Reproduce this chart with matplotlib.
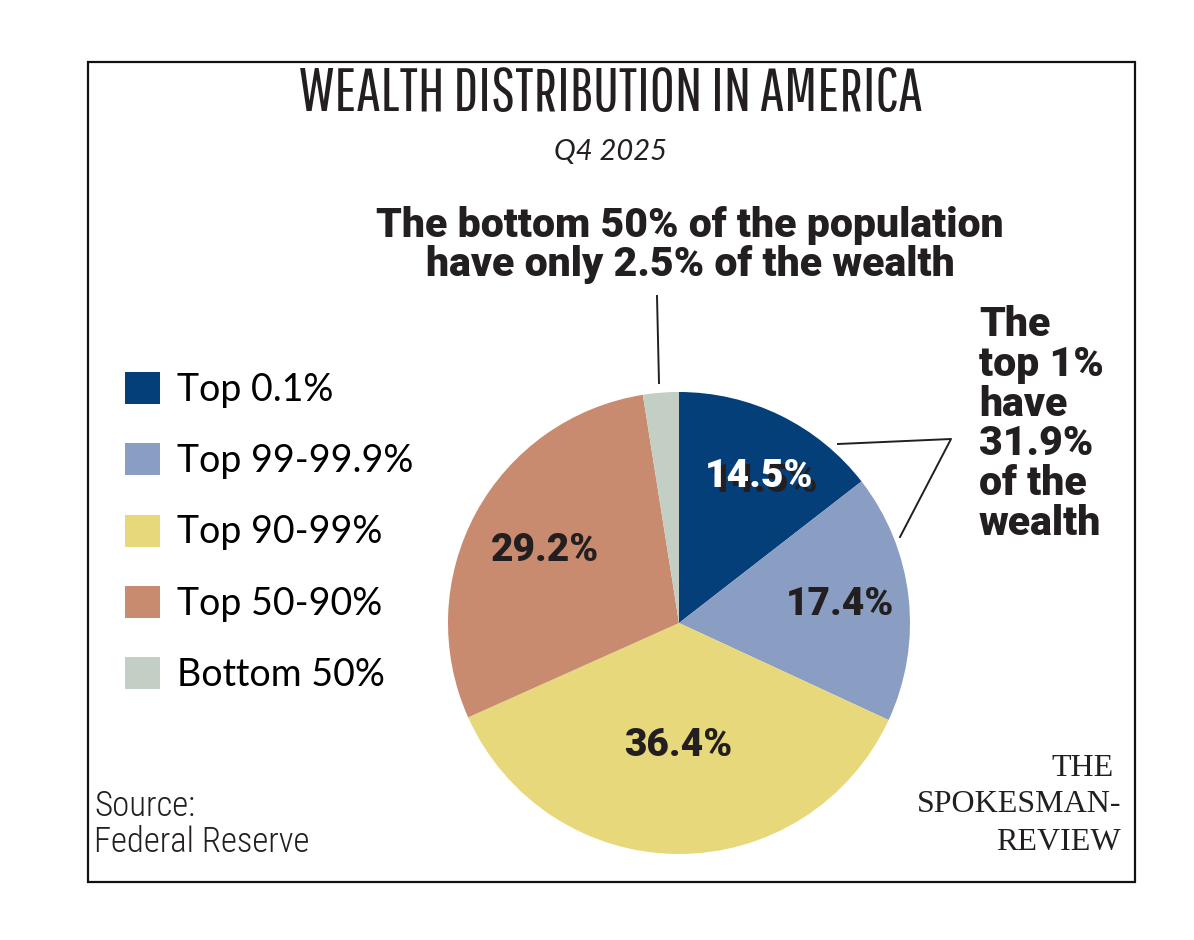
import matplotlib
matplotlib.use("Agg")
import matplotlib.pyplot as plt
import numpy as np
from matplotlib.patches import Rectangle
import matplotlib.transforms as mtransforms

# data
groups = ["Top 0.1%", "Top 99-99.9%", "Top 90-99%", "Top 50-90%", "Bottom 50%"]
shares = [14.5, 17.4, 36.4, 29.2, 2.5]
slice_colors = ["#053f7a", "#8a9dc3", "#e8d87c", "#c98b6f", "#c3cec4"]
pct_labels = ["14.5%", "17.4%", "36.4%", "29.2%", ""]
label_radius = [0.72, 0.70, 0.53, 0.66, 0.0]

W, H = 1194, 940
fig = plt.figure(figsize=(W / 100, H / 100), dpi=100)
fig.patch.set_facecolor("white")

ink = "#231f20"
heavy = ["Roboto", "DejaVu Sans"]
light = ["Lato", "DejaVu Sans"]
narrow = ["Pathway Gothic One", "Antonio", "Roboto Condensed", "DejaVu Sans"]
narrow_text = ["Roboto Condensed", "Archivo Narrow", "DejaVu Sans"]
serif = ["Liberation Serif", "DejaVu Serif"]

# pie axes: centre (679,623) px, radius 231 px
cx, cy, r = 679, 623, 231
pax = fig.add_axes([(cx - r) / W, 1 - (cy + r) / H, 2 * r / W, 2 * r / H])
wedges, _ = pax.pie(shares, colors=slice_colors, startangle=90, counterclock=False,
                    wedgeprops=dict(linewidth=0))
pax.set_xlim(-1, 1)
pax.set_ylim(-1, 1)
pax.set_aspect("equal")
pax.axis("off")

for w, lab, rr in zip(wedges, pct_labels, label_radius):
    if not lab:
        continue
    ang = np.deg2rad((w.theta1 + w.theta2) / 2)
    x, y = rr * np.cos(ang), rr * np.sin(ang)
    if lab == "14.5%":
        # misregistered print: dark copy behind white text
        base = mtransforms.offset_copy(pax.transData, fig=fig, x=7, y=-3, units="dots")
        off = mtransforms.offset_copy(pax.transData, fig=fig, x=12, y=-8, units="dots")
        pax.text(x, y, lab, transform=off, ha="center", va="center", fontsize=28,
                 family=heavy, weight=900, color=ink)
        pax.text(x, y, lab, transform=base, ha="center", va="center", fontsize=28,
                 family=heavy, weight=900, color="white")
    else:
        pax.text(x, y, lab, ha="center", va="center", fontsize=28,
                 family=heavy, weight=900, color=ink)

# legend
pax.legend(wedges, groups, loc="upper left", bbox_to_anchor=(125 / W, 1 - 372 / H),
           bbox_transform=fig.transFigure, frameon=False, prop=dict(family=light, size=27),
           handlelength=0.93, handleheight=0.93, labelspacing=0.94, handletextpad=0.46,
           borderaxespad=0, borderpad=0)

# overlay in pixel coordinates
ov = fig.add_axes([0, 0, 1, 1])
ov.set_xlim(0, W)
ov.set_ylim(H, 0)
ov.axis("off")
ov.patch.set_alpha(0)

ov.add_patch(Rectangle((88, 62), 1135 - 88, 882 - 62, fill=False, lw=1.6, ec="#111111"))

ov.text(611, 94, "WEALTH DISTRIBUTION IN AMERICA", ha="center", va="center",
        fontsize=44, family=narrow, color=ink)
ov.text(611, 152, "Q4 2025", ha="center", va="center", fontsize=21, style="italic",
        family=light, color=ink)

ov.text(690, 245, "The bottom 50% of the population\nhave only 2.5% of the wealth",
        ha="center", va="center", fontsize=29.5, family=heavy, weight=900,
        color=ink, linespacing=1.0)
ov.text(979, 424, "The\ntop 1%\nhave\n31.9%\nof the\nwealth", ha="left", va="center",
        fontsize=29.5, family=heavy, weight=900, color=ink, linespacing=1.02)

ov.plot([657, 659], [296, 383], color=ink, lw=1.4)
ov.plot([838, 951, 900], [444, 439, 537], color=ink, lw=1.4)

ov.text(94, 806, "Source:", ha="left", va="center", fontsize=25, weight=300,
        family=narrow_text, color=ink)
ov.text(94, 842, "Federal Reserve", ha="left", va="center", fontsize=25, weight=300,
        family=narrow_text, color=ink)

ov.text(1114, 768, "THE", ha="right", va="center", fontsize=23, family=serif, color=ink)
ov.text(1121, 805, "SPOKESMAN-", ha="right", va="center", fontsize=23, family=serif, color=ink)
ov.text(1121, 842, "REVIEW", ha="right", va="center", fontsize=23, family=serif, color=ink)

fig.savefig("out.png", dpi=100)
